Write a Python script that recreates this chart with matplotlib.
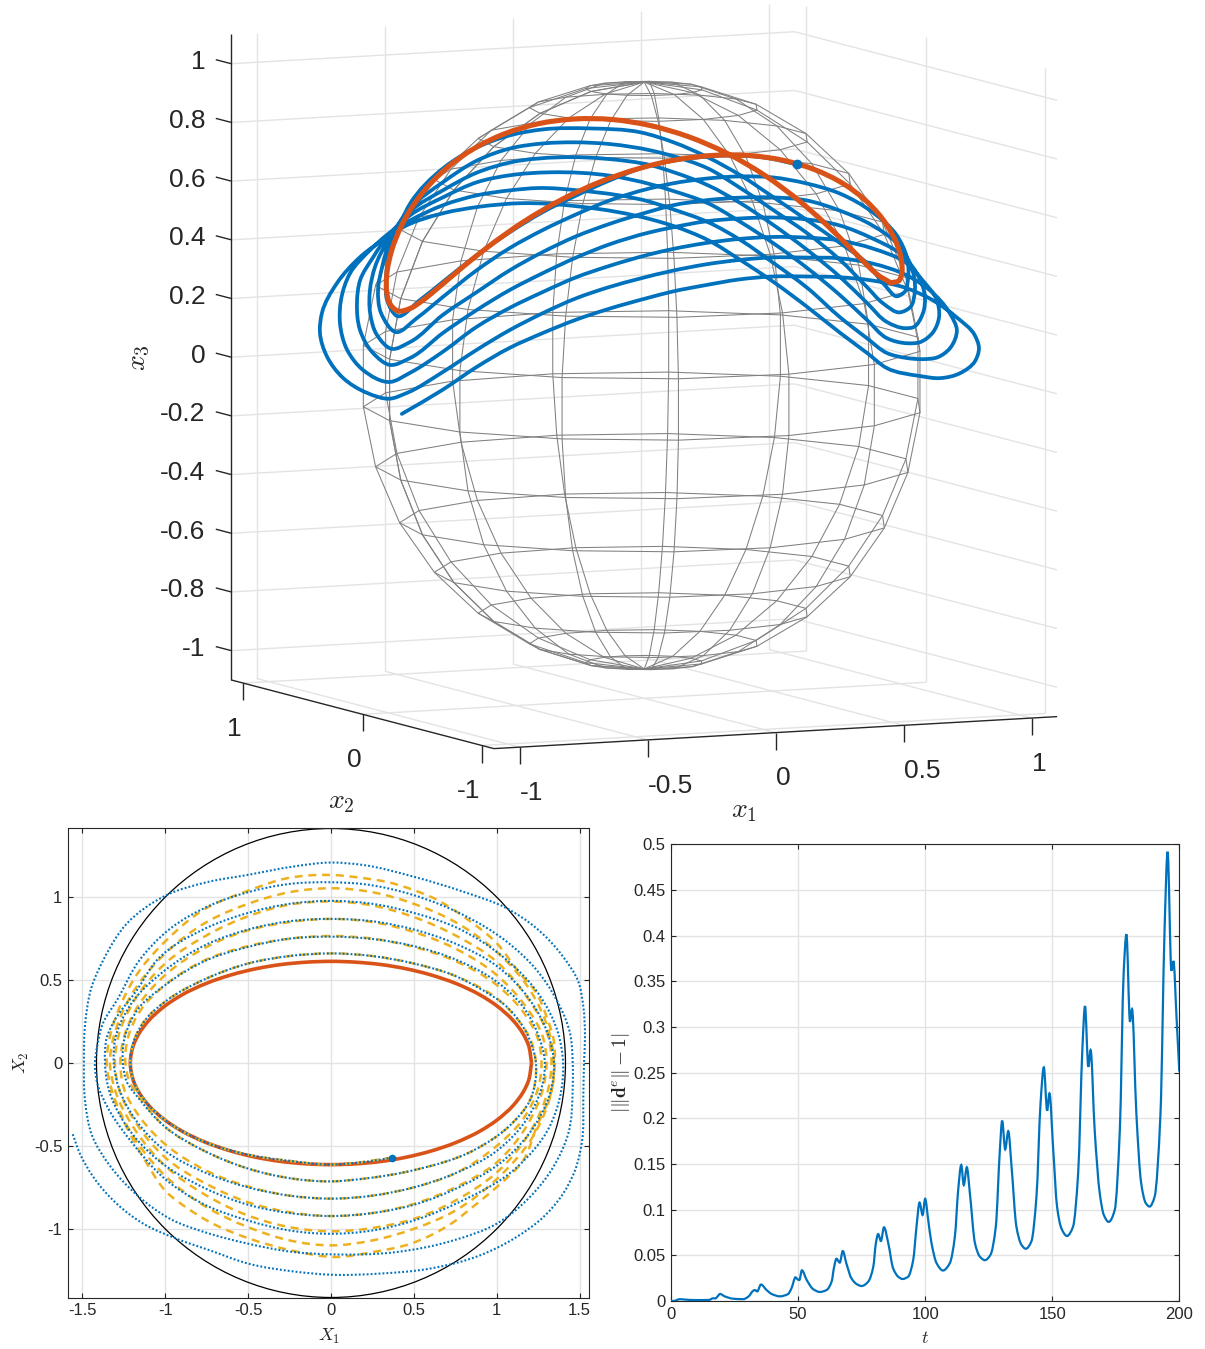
import numpy as np
import matplotlib
matplotlib.use("Agg")
import matplotlib.pyplot as plt
from matplotlib.patches import Circle, PathPatch
from matplotlib.path import Path
from mpl_toolkits.mplot3d import proj3d

plt.rcParams['font.family'] = ['Liberation Sans', 'DejaVu Sans']
plt.rcParams['mathtext.fontset'] = 'cm'

# ---------------- data: 3-D trajectory ----------------
blue_x1 = [.347,.209,.067,-.094,-.245,-.388,-.502,-.616,-.717,-.813,-.904,-.946,-.989,
 -.995,-.971,-.935,-.850,
 -.783,-.598,-.428,-.270,-.118,.080,.275,.395,.509,.609,.705,.800,.887,.950,.978,
 .988,1.005,1.002,.970,.884,
 .725,.549,.382,.221,.069,-.074,-.207,-.292,-.434,-.545,-.654,-.750,-.832,-.908,-.953,
 -.988,-1.019,-1.007,-.963,-.899,
 -.774,-.589,-.404,-.238,-.085,.046,.200,.356,.437,.546,.642,.729,.814,.892,.941,.961,
 .995,1.020,1.020,.973,.870,
 .715,.530,.354,.184,.031,-.116,-.254,-.339,-.481,-.587,-.687,-.778,-.855,-.927,-.976,
 -1.009,-1.044,-1.052,-1.034,-.991,-.902,
 -.764,-.579,-.390,-.219,.019,.242,.398,.479,.584,.670,.748,.824,.892,.941,.977,
 1.014,1.036,1.056,1.050,.986,.877,
 .696,.506,.326,.146,-.016,-.164,-.301,-.386,-.523,-.624,-.720,-.802,-.874,-.936,-.980,
 -1.021,-1.069,-1.101,-1.094,-1.063,-.989,-.885,
 -.760,-.565,-.371,-.195,.008,.280,.441,.517,.612,.694,.766,.833,.896,.941,.981,
 1.027,1.063,1.100,1.105,1.078,.990,.886,
 .678,.483,.293,.108,-.058,-.211,-.348,-.433,-.566,-.662,-.752,-.830,-.898,-.950,-.990,
 -1.021,-1.108,-1.156,-1.165,-1.147,-1.088,-.982,-.859,
 -.750,-.551,-.352,-.172,-.029,.182,.479,.550,.640,.713,.776,.838,.896,.945,.986,
 1.036,1.084,1.129,1.162,1.170,1.124,1.004,.862,
 .659,.455,.260,.066,-.100,-.253,-.395,-.519,-.613,-.704,-.790,-.858,-.916,-.964,-.997,
 -1.021,-1.092,-1.172,-1.220,-1.234,-1.212,-1.130,-1.011,-.868,
 -.773,-.527,-.324,-.086,.219,.530,.596,.678,.741,.795,.852,.906,.955,.995,
 1.091,1.151,1.210,1.250,1.247,1.207,1.104,.964,.811,
 .612,.413,.222,.033,-.138,-.295,-.442,-.527,-.660,-.751,-.832,-.895,-.945,-.993,-1.040]
blue_x2 = [-.54,-.56,-.57,-.58,-.57,-.54,-.51,-.47,-.41,-.34,-.25,-.15,-.05,
 .02,.08,.14,.22,
 .28,.40,.48,.54,.59,.62,.62,.60,.56,.50,.43,.35,.26,.17,.08,
 0,-.03,-.06,-.12,-.22,
 -.36,-.46,-.54,-.60,-.65,-.68,-.68,-.67,-.64,-.60,-.55,-.48,-.38,-.26,-.14,
 -.04,.02,.07,.13,.20,
 .30,.42,.53,.61,.66,.69,.71,.71,.69,.64,.57,.48,.38,.27,.15,.06,
 -.01,-.04,-.08,-.14,-.25,
 -.38,-.50,-.60,-.68,-.73,-.77,-.78,-.77,-.74,-.69,-.62,-.54,-.43,-.30,-.13,
 -.05,0,.04,.08,.13,.21,
 .32,.44,.56,.65,.74,.80,.80,.78,.72,.63,.52,.40,.27,.15,.06,
 -.01,-.03,-.07,-.10,-.17,-.26,
 -.42,-.55,-.66,-.76,-.83,-.87,-.88,-.87,-.83,-.77,-.69,-.59,-.47,-.32,-.14,
 -.06,-.02,.02,.06,.10,.15,.23,
 .33,.47,.60,.70,.80,.88,.89,.86,.78,.68,.56,.42,.28,.15,.07,
 0,-.03,-.06,-.10,-.14,-.21,-.30,
 -.46,-.60,-.73,-.84,-.92,-.97,-.98,-.97,-.92,-.85,-.76,-.65,-.52,-.35,-.16,
 -.06,-.02,.01,.05,.08,.13,.19,.26,
 .35,.50,.64,.75,.83,.92,.97,.93,.84,.72,.58,.43,.28,.16,.08,
 .02,-.01,-.04,-.07,-.11,-.15,-.24,-.35,
 -.50,-.66,-.80,-.93,-1.01,-1.06,-1.08,-1.07,-1.02,-.94,-.84,-.71,-.56,-.38,-.15,
 -.06,-.02,.01,.04,.07,.10,.15,.21,.29,
 .36,.55,.70,.85,1.0,1.08,1.03,.92,.78,.62,.46,.30,.18,.10,
 .03,-.01,-.05,-.09,-.13,-.18,-.25,-.35,-.46,
 -.60,-.75,-.88,-1.0,-1.09,-1.15,-1.18,-1.17,-1.12,-1.04,-.93,-.79,-.62,-.44,-.20]
blue_x3 = [.759,.792,.807,.806,.788,.741,.693,.637,.567,.486,.390,.320,.257,
 .304,.365,.435,.538,
 .596,.694,.748,.775,.782,.772,.749,.711,.659,.599,.527,.452,.379,.317,.250,
 .221,.240,.281,.367,.457,
 .558,.642,.693,.728,.744,.747,.737,.723,.686,.640,.586,.522,.440,.340,.258,
 .201,.262,.334,.404,.485,
 .577,.644,.697,.721,.725,.719,.703,.674,.652,.611,.546,.476,.404,.320,.238,.192,
 .167,.186,.248,.349,.434,
 .516,.589,.643,.670,.682,.685,.675,.657,.619,.577,.520,.454,.372,.284,.176,
 .146,.190,.261,.334,.405,.484,
 .564,.614,.652,.668,.664,.640,.612,.586,.543,.487,.420,.344,.262,.184,.127,
 .112,.116,.167,.225,.317,.400,
 .477,.545,.586,.612,.624,.626,.613,.599,.561,.515,.457,.393,.316,.225,.123,
 .093,.132,.208,.295,.367,.436,.505,
 .549,.586,.614,.618,.607,.573,.535,.511,.474,.416,.353,.280,.199,.126,.071,
 .059,.064,.099,.154,.218,.297,.370,
 .448,.500,.533,.556,.566,.565,.552,.537,.499,.458,.402,.340,.265,.165,.075,
 .035,.076,.144,.231,.306,.389,.456,.510,
 .529,.555,.564,.560,.552,.523,.464,.439,.402,.349,.283,.211,.124,.063,.019,
 .006,.003,.011,.043,.108,.172,.266,.336,
 .402,.447,.474,.498,.506,.504,.491,.469,.440,.398,.340,.272,.192,.100,.006,
 -.022,-.003,.049,.120,.199,.263,.355,.432,.484,
 .506,.521,.516,.501,.458,.391,.370,.330,.273,.213,.142,.068,.010,-.035,
 -.059,-.065,-.047,-.004,.045,.097,.170,.246,.306,
 .357,.394,.420,.442,.450,.445,.433,.416,.379,.338,.284,.222,.141,.047,-.058]
start_x3d = [.348, -.536, .76]

# ---------------- data: limit cycle in the plane ----------------
cycle_X1 = [1.21,1.19,1.16,1.10,1.0,.9,.75,.6,.45,.3,.15,0,-.15,-.3,-.45,-.6,-.75,-.9,-1.0,-1.10,-1.16,-1.19,
 -1.21,-1.19,-1.16,-1.10,-1.0,-.9,-.75,-.6,-.45,-.3,-.15,0,.15,.3,.45,.6,.75,.9,1.0,1.10,1.16,1.19,1.21]
cycle_X2 = [0,.111,.174,.255,.345,.410,.481,.532,.569,.594,.608,.613,.608,.594,.569,.532,.481,.410,.345,.255,.174,.111,
 0,-.111,-.174,-.255,-.345,-.410,-.481,-.532,-.569,-.594,-.608,-.613,-.608,-.594,-.569,-.532,-.481,-.410,-.345,-.255,-.174,-.111,0]
start_X = [.37, -.57]

# ---------------- data: planar blue trajectory ----------------
traj_X1 = [.37,.25,.12,0,-.25,-.5,-.75,-1,-1.1,-1.18,-1.21,
 -1.19,-1.12,-1,-.75,-.5,-.25,0,.25,.5,.75,.86,1.08,1.18,1.236,
 1.2,1.08,.86,.497,.195,0,-.227,-.499,-.77,-1,-1.15,-1.235,-1.255,
 -1.245,-1.16,-1,-.75,-.5,-.25,0,.25,.5,.75,1,1.15,1.25,1.29,
 1.27,1.18,1,.75,.5,.25,0,-.25,-.5,-.75,-1,-1.18,-1.28,-1.31,
 -1.30,-1.21,-1,-.75,-.5,-.25,0,.25,.5,.75,1,1.2,1.31,1.345,
 1.33,1.24,1.05,.75,.5,.25,0,-.25,-.5,-.75,-1.05,-1.24,-1.34,-1.363,
 -1.35,-1.315,-1.17,-1.05,-.75,-.5,-.25,0,.25,.5,.75,1.05,1.25,1.37,1.40,
 1.39,1.31,1.12,.75,.5,.25,0,-.25,-.5,-.75,-1,-1.2,-1.34,-1.41,-1.424,
 -1.41,-1.375,-1.29,-1.155,-.97,-.73,-.5,-.25,0,.195,.497,.798,1.06,1.24,1.361,1.442,1.458,
 1.458,1.431,1.341,1.2,1,.738,.396,0,-.227,-.499,-.73,-.97,-1.168,-1.333,-1.44,-1.484,-1.49,
 -1.484,-1.443,-1.373,-1.232,-.991,-.75,-.499,-.227,0,.195,.497,.798,1.06,1.24,1.40,1.492,1.522,1.532,1.526,
 1.522,1.512,1.472,1.40,1.281,1.12,.899,.597,.296,0,-.227,-.499,-.73,-.931,-1.132,-1.293,-1.433,-1.514,-1.56]
traj_X2 = [-.57,-.59,-.605,-.613,-.59,-.553,-.481,-.345,-.255,-.135,0,
 .13,.26,.37,.51,.6,.645,.661,.645,.6,.525,.47,.32,.18,0,
 -.225,-.376,-.527,-.647,-.698,-.714,-.698,-.637,-.527,-.386,-.225,-.105,0,
 .15,.33,.47,.62,.70,.75,.762,.748,.705,.625,.49,.35,.17,0,
 -.15,-.34,-.53,-.665,-.75,-.80,-.818,-.80,-.75,-.665,-.53,-.34,-.15,0,
 .15,.35,.56,.715,.805,.855,.869,.855,.805,.72,.585,.38,.17,0,
 -.15,-.36,-.58,-.76,-.855,-.905,-.923,-.905,-.855,-.76,-.58,-.37,-.16,0,
 .16,.24,.44,.62,.815,.905,.96,.978,.96,.905,.82,.63,.42,.18,0,
 -.16,-.40,-.63,-.85,-.95,-1.01,-1.03,-1.01,-.95,-.86,-.70,-.48,-.28,-.12,0,
 .1,.24,.38,.62,.81,.95,1.03,1.08,1.09,1.079,1.013,.893,.732,.561,.38,.179,0,
 -.145,-.426,-.627,-.808,-.969,-1.07,-1.14,-1.154,-1.14,-1.09,-1.03,-.94,-.798,-.62,-.44,-.22,0,
 .219,.46,.621,.84,1.013,1.09,1.135,1.185,1.209,1.194,1.124,1.033,.933,.812,.641,.49,.34,.159,0,
 -.185,-.487,-.647,-.788,-.929,-1.049,-1.16,-1.24,-1.27,-1.277,-1.257,-1.21,-1.13,-1.06,-.969,-.848,-.688,-.547,-.422]

# ---------------- data: planar orange trajectory ----------------
dash_X1 = [.37,.12,0,-.25,-.5,-.75,-1,-1.1,-1.18,-1.21,
 -1.19,-1.12,-1,-.75,-.5,-.25,0,.25,.5,.75,1,1.12,1.2,1.236,
 1.2,1.08,.86,.497,.195,0,-.227,-.499,-.77,-1,-1.13,-1.22,-1.24,
 -1.225,-1.14,-1,-.75,-.5,-.25,0,.25,.5,.75,1,1.15,1.25,1.27,
 1.25,1.15,1,.75,.5,.25,0,-.25,-.5,-.75,-1,-1.15,-1.25,-1.27,
 -1.25,-1.16,-1,-.75,-.5,-.25,0,.25,.5,.75,1,1.16,1.28,1.30,
 1.28,1.18,1,.75,.5,.25,0,-.25,-.5,-.75,-1,-1.17,-1.28,-1.303,
 -1.285,-1.19,-1,-.75,-.5,-.25,0,.25,.5,.75,1,1.18,1.31,1.33,
 1.31,1.21,1,.75,.5,.25,0,-.25,-.5,-.75,-1,-1.19,-1.30,-1.333,
 -1.31,-1.21,-1,-.75,-.5,-.25,0,.25,.5,.75,1,1.2,1.32,1.345,
 1.33,1.22,1,.75,.5,.25,0,-.25,-.5,-.75,-1,-1.2,-1.32,-1.353,
 -1.333,-1.273,-1.152,-.991,-.77,-.489,-.267,0,.195,.346,.497,.638,.798,1.0,1.13,1.24,1.30,1.345,1.35,
 1.33,1.24,1.16,1.0,.84,.74,.62,.48,.255,.024,-.24,-.49,-.73,-.86,-.99,-1.12,-1.2,-1.26,-1.33]
dash_X2 = [-.57,-.605,-.613,-.59,-.553,-.481,-.345,-.255,-.135,0,
 .13,.26,.37,.51,.6,.645,.661,.645,.6,.525,.39,.27,.15,0,
 -.225,-.376,-.527,-.647,-.698,-.714,-.698,-.637,-.527,-.386,-.24,-.1,0,
 .15,.33,.47,.625,.705,.75,.766,.75,.70,.615,.47,.32,.14,0,
 -.15,-.35,-.50,-.665,-.75,-.80,-.818,-.80,-.745,-.65,-.49,-.33,-.15,0,
 .15,.35,.53,.70,.80,.85,.869,.85,.79,.69,.53,.36,.15,0,
 -.15,-.38,-.60,-.75,-.85,-.905,-.923,-.90,-.84,-.73,-.57,-.37,-.15,0,
 .15,.37,.60,.77,.885,.955,.974,.95,.88,.77,.61,.40,.16,0,
 -.16,-.40,-.66,-.83,-.94,-.995,-1.015,-.99,-.92,-.80,-.62,-.39,-.17,0,
 .16,.40,.66,.85,.96,1.03,1.054,1.03,.96,.85,.67,.44,.17,0,
 -.17,-.44,-.70,-.89,-1.0,-1.07,-1.10,-1.07,-.99,-.87,-.68,-.43,-.17,0,
 .159,.34,.561,.742,.923,1.043,1.114,1.134,1.115,1.09,1.044,.985,.884,.722,.551,.42,.28,.129,0,
 -.17,-.386,-.587,-.748,-.88,-.959,-1.03,-1.09,-1.14,-1.17,-1.13,-1.06,-.96,-.88,-.78,-.59,-.45,-.33,-.165]

# ---------------- data: norm error over time ----------------
t_vals = [0,1,3.5,7,11.4,15,16.6,17.5,18.3,19.3,21.2,24.5,28.4,30.4,32.4,33,33.9,35.4,37.6,39.6,42.8,46.1,47.4,49,
 49.8,50.5,51.5,53.4,56,58.6,61.2,63.2,64.2,65.1,66.4,67.6,69,71,73,75,77.6,79.6,80.6,81.5,82.6,83.8,85.5,87.4,
 89.4,91.1,93.3,95.3,96.6,97.8,99,100,101.2,102.5,104.5,107,109.7,111.7,113,114.2,115.2,116.4,117.6,119.6,121.5,
 123.5,125.7,127.8,129.4,130.3,131.5,132.7,134,135.9,137.9,139.6,141.8,143.8,145.4,146.7,148,148.9,150.4,151.9,
 153.6,155.8,158.2,160.2,161.9,162.9,164.2,165.1,166.7,168.7,170.3,172.2,174.6,176.6,178.1,179.2,180.6,181.4,
 183.1,185,186.8,188.3,190.3,192.6,194.2,195.4,196.9,197.7,198.9,200]
err_vals = [0,0,.002,.0012,.001,.0012,.003,.0028,.005,.0077,.005,.0025,.002,.0047,.0113,.012,.0105,.018,.012,.0077,
 .0051,.0077,.0139,.0259,.0237,.023,.0336,.023,.0128,.0099,.012,.0212,.0376,.0463,.042,.0547,.0412,.0248,.0186,
 .0164,.0212,.0376,.063,.0733,.0657,.0807,.0631,.0358,.0266,.0241,.0266,.0449,.0814,.1077,.0942,.1118,.0888,.0633,
 .0414,.0334,.0414,.0706,.1216,.1489,.127,.1464,.1179,.0633,.0487,.0447,.0505,.0815,.1653,.1974,.166,.186,.147,
 .0815,.0615,.0572,.0652,.1143,.2164,.2558,.2084,.2273,.1653,.1034,.0796,.0712,.0815,.1398,.2784,.3229,.2565,.2747,
 .1871,.1179,.0942,.0866,.0997,.1871,.3587,.4014,.3058,.3196,.2055,.129,.1072,.1034,.1143,.2055,.4061,.4919,.3616,
 .3722,.3113,.2511]

# ---------------- ticks ----------------
x1_ticks = [-1, -.5, 0, .5, 1]
x1_ticklabels = ['-1', '-0.5', '0', '0.5', '1']
x2_ticks = [-1, 0, 1]
x2_ticklabels = ['-1', '0', '1']
x3_ticks = [-1, -.8, -.6, -.4, -.2, 0, .2, .4, .6, .8, 1]
x3_ticklabels = ['-1', '-0.8', '-0.6', '-0.4', '-0.2', '0', '0.2', '0.4', '0.6', '0.8', '1']
X1_ticks = [-1.5, -1, -.5, 0, .5, 1, 1.5]
X1_ticklabels = ['-1.5', '-1', '-0.5', '0', '0.5', '1', '1.5']
X2_ticks = [-1, -.5, 0, .5, 1]
X2_ticklabels = ['-1', '-0.5', '0', '0.5', '1']
t_ticks = [0, 50, 100, 150, 200]
err_ticks = [0, .05, .1, .15, .2, .25, .3, .35, .4, .45, .5]
err_ticklabels = ['0', '0.05', '0.1', '0.15', '0.2', '0.25', '0.3', '0.35', '0.4', '0.45', '0.5']

# ---------------- styles ----------------
BLUE, RED, ORANGE = '#0072BD', '#D95319', '#EDB120'
GRID = '#e3e3e3'
DARK = '#262626'
W, H = 1205, 1349
LIM = 1.1


def curve_through(x, y):
    """Bezier path that passes through the given points (the path is the drawing, the points stay as read)."""
    P = np.column_stack([x, y]).astype(float)
    d = np.maximum(np.linalg.norm(np.diff(P, axis=0), axis=1), 1e-9)
    s = np.diff(P, axis=0) / d[:, None]
    T = np.zeros_like(P)
    T[0], T[-1] = s[0], s[-1]
    T[1:-1] = (s[:-1] * d[1:, None] + s[1:] * d[:-1, None]) / (d[:-1, None] + d[1:, None])
    verts, codes = [P[0]], [Path.MOVETO]
    for i in range(len(d)):
        verts += [P[i] + T[i] * d[i] / 3, P[i + 1] - T[i + 1] * d[i] / 3, P[i + 1]]
        codes += [Path.CURVE4] * 3
    return Path(np.array(verts), codes)


def monotone_curve(x, y):
    """Bezier path through (x, y) with flat tangents at local extremes, so peaks keep their read height."""
    x, y = np.asarray(x, float), np.asarray(y, float)
    h = np.diff(x)
    m = np.diff(y) / h
    t = np.zeros_like(y)
    t[0], t[-1] = m[0], m[-1]
    for i in range(1, len(x) - 1):
        if m[i - 1] * m[i] > 0:
            w1, w2 = 2 * h[i] + h[i - 1], h[i] + 2 * h[i - 1]
            t[i] = (w1 + w2) / (w1 / m[i - 1] + w2 / m[i])
    verts, codes = [(x[0], y[0])], [Path.MOVETO]
    for i in range(len(h)):
        verts += [(x[i] + h[i] / 3, y[i] + t[i] * h[i] / 3),
                  (x[i + 1] - h[i] / 3, y[i + 1] - t[i + 1] * h[i] / 3),
                  (x[i + 1], y[i + 1])]
        codes += [Path.CURVE4] * 3
    return Path(np.array(verts), codes)


class ViewCurve(PathPatch):
    """A curve already given in the 3-D axes' view coordinates."""
    def do_3d_projection(self):
        return np.inf


fig = plt.figure(figsize=(W / 100, H / 100), dpi=100)

# ---------------- 3-D panel ----------------
ax = fig.add_subplot(projection='3d', computed_zorder=False)
ax.set_proj_type('ortho')
ax.view_init(elev=7, azim=-115)
ax.set_xlim(-LIM, LIM); ax.set_ylim(-LIM, LIM); ax.set_zlim(-LIM, LIM)
ax.set_box_aspect((1, 1, 1.0467))
ax.set_axis_off()
ax.set_autoscale_on(False)


def set_square(left_px, bottom_px, size_px):
    ax.set_position([left_px / W, bottom_px / H, size_px / W, size_px / H])


def view_xy(x, y, z):
    xs, ys, _ = proj3d.proj_transform(x, y, z, ax.get_proj())
    return xs, ys


def project(x, y, z):
    return ax.transData.transform(view_xy(x, y, z))


size = 900.0
set_square(150, 200, size)
fig.canvas.draw()
a, b = project(0, 0, 0), project(1, 0, 0)
size *= 256.0 / (b[0] - a[0])
set_square(150, 200, size)
fig.canvas.draw()
a = project(0, 0, 0)
set_square(150 + 644.2 - a[0], 200 + (H - 375.5) - a[1], size)


def seg(xs, ys, zs, **kw):
    ax.plot(xs, ys, zs, **kw)


def curve3d(x1, x2, x3, **kw):
    xs, ys = view_xy(np.asarray(x1, float), np.asarray(x2, float), np.asarray(x3, float))
    ax.add_patch(ViewCurve(curve_through(xs, ys), fill=False, transform=ax.transData,
                           capstyle='round', joinstyle='round', **kw))


def label3d(x, y, z, s, **kw):
    xs, ys = view_xy(x, y, z)
    ax.text2D(float(xs), float(ys), s, transform=ax.transData, va='center',
              fontsize=19, color=DARK, clip_on=False, **kw)


gk = dict(color=GRID, lw=1.0, zorder=1, solid_capstyle='butt')
for v in x1_ticks:
    seg([v, v], [-LIM, LIM], [-LIM, -LIM], **gk)
    seg([v, v], [LIM, LIM], [-LIM, LIM], **gk)
for v in x2_ticks:
    seg([-LIM, LIM], [v, v], [-LIM, -LIM], **gk)
    seg([LIM, LIM], [v, v], [-LIM, LIM], **gk)
for v in x3_ticks:
    seg([-LIM, LIM], [LIM, LIM], [v, v], **gk)
    seg([LIM, LIM], [LIM, -LIM], [v, v], **gk)

lon = np.linspace(-np.pi, np.pi, 16)
lat = np.linspace(-np.pi / 2, np.pi / 2, 16)
LON, LAT = np.meshgrid(lon, lat)
ax.plot_wireframe(np.cos(LAT) * np.cos(LON), np.cos(LAT) * np.sin(LON), np.sin(LAT),
                  rstride=1, cstride=1, color='#808080', linewidth=0.75, zorder=2)

curve3d(blue_x1, blue_x2, blue_x3, edgecolor=BLUE, lw=2.7, zorder=3)

# limit cycle carried onto the sphere through the plane's equal-area chart
cX1, cX2 = np.array(cycle_X1), np.array(cycle_X2)
r2 = cX1 ** 2 + cX2 ** 2
fac = np.sqrt(np.clip(1 - r2 / 4, 0, None))
curve3d(cX1 * fac, cX2 * fac, 1 - r2 / 2, edgecolor=RED, lw=3.7, zorder=4)
ax.plot([start_x3d[0]], [start_x3d[1]], [start_x3d[2]], 'o', color=BLUE, ms=6, zorder=5)

ak = dict(color=DARK, lw=1.0, zorder=6, solid_capstyle='butt')
seg([-LIM, -LIM], [LIM, LIM], [-LIM, LIM], **ak)
seg([-LIM, -LIM], [LIM, -LIM], [-LIM, -LIM], **ak)
seg([-LIM, LIM], [-LIM, -LIM], [-LIM, -LIM], **ak)
for v in x3_ticks:
    seg([-LIM, -LIM], [LIM, LIM + .13], [v, v], **ak)
for v in x2_ticks:
    seg([-LIM, -LIM], [v, v], [-LIM, -LIM - .058], **ak)
for v in x1_ticks:
    seg([v, v], [-LIM, -LIM], [-LIM, -LIM - .058], **ak)

for v, s in zip(x3_ticks, x3_ticklabels):
    label3d(-LIM, LIM + .216, v - .018, s, ha='right')
for v, s in zip(x2_ticks, x2_ticklabels):
    label3d(-LIM, v + .012, -LIM - .156, s, ha='right')
for v, s in zip(x1_ticks, x1_ticklabels):
    label3d(v, -LIM, -LIM - .156, s, ha='left')

fig.text(744 / W, 1 - 811 / H, r'$x_1$', ha='center', va='center', fontsize=20, color=DARK)
fig.text(341 / W, 1 - 802 / H, r'$x_2$', ha='center', va='center', fontsize=20, color=DARK)
fig.text(139 / W, 1 - 358 / H, r'$x_3$', ha='center', va='center', fontsize=20, color=DARK, rotation=90)


# ---------------- lower panels ----------------
def panel(l, r, t, b):
    a2 = fig.add_axes([l / W, 1 - b / H, (r - l) / W, (b - t) / H])
    a2.grid(True, color=GRID, lw=1.0)
    a2.set_axisbelow(True)
    a2.tick_params(direction='in', length=3.6, width=0.8, top=True, right=True,
                   labelsize=12, colors=DARK, pad=4)
    for s in a2.spines.values():
        s.set_color(DARK); s.set_linewidth(0.8)
    return a2


axL = panel(68, 589.3, 828.3, 1297.7)
axL.set_xlim(-1.586, 1.558)
axL.set_ylim(-1.4155, 1.4155)
axL.set_xticks(X1_ticks, X1_ticklabels)
axL.set_yticks(X2_ticks, X2_ticklabels)
axL.add_patch(Circle((0, 0), np.sqrt(2), fill=False, ec='black', lw=0.9, zorder=2))
axL.add_patch(PathPatch(curve_through(cycle_X1, cycle_X2), fill=False, edgecolor=RED, lw=2.6, zorder=3))
axL.add_patch(PathPatch(curve_through(dash_X1, dash_X2), fill=False, edgecolor=ORANGE, lw=1.8,
                        ls=(0, (3.2, 2.3)), capstyle='butt', zorder=4))
axL.add_patch(PathPatch(curve_through(traj_X1, traj_X2), fill=False, edgecolor=BLUE, lw=1.5,
                        ls=(0, (0.9, 1.0)), capstyle='butt', zorder=5))
axL.plot([start_X[0]], [start_X[1]], 'o', color=BLUE, ms=4.5, zorder=6)
axL.set_xlabel(r'$X_1$', fontsize=13, color=DARK, labelpad=6)
axL.set_ylabel(r'$X_2$', fontsize=13, color=DARK, labelpad=2)

axR = panel(671, 1179.3, 844.3, 1301)
axR.set_xlim(0, 200)
axR.set_ylim(0, .5)
axR.set_xticks(t_ticks)
axR.set_yticks(err_ticks, err_ticklabels)
axR.add_patch(PathPatch(monotone_curve(t_vals, err_vals), fill=False, edgecolor=BLUE, lw=1.6, zorder=3))
axR.set_xlabel(r'$t$', fontsize=13, color=DARK, labelpad=6)
axR.set_ylabel(r'$|\|\mathbf{d}^e\|-1|$', fontsize=14, color=DARK, labelpad=1)

fig.savefig('out.png', dpi=100)
